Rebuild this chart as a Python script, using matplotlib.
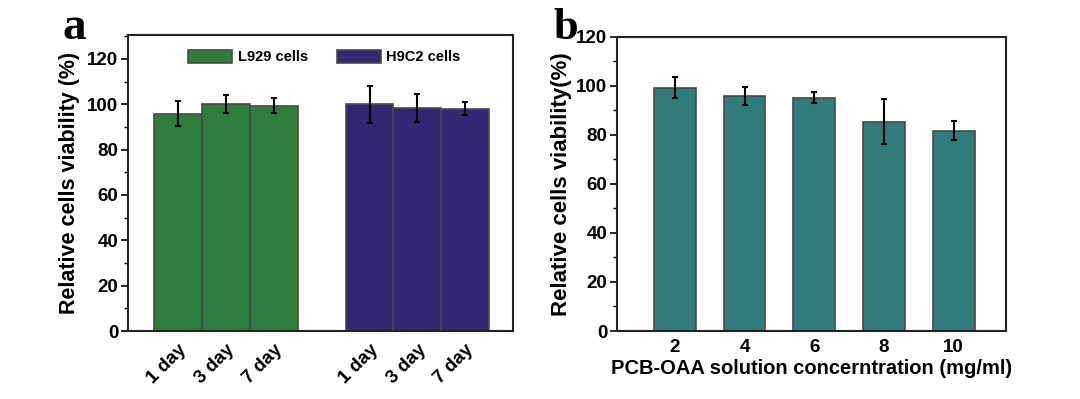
import matplotlib
matplotlib.use("Agg")
import matplotlib.pyplot as plt
from matplotlib.ticker import MultipleLocator
import numpy as np

plt.rcParams['font.family'] = ['Liberation Sans', 'DejaVu Sans']
plt.rcParams['font.weight'] = 'bold'

# ---- data ----
day_labels = ["1 day", "3 day", "7 day"]
l929_vals = [95.8, 100.3, 99.4]
l929_err = [5.5, 4.0, 3.3]
h9c2_vals = [99.9, 98.4, 98.1]
h9c2_err = [8.3, 6.0, 3.0]

conc = [2, 4, 6, 8, 10]
conc_vals = [99.2, 95.8, 95.1, 85.3, 81.6]
conc_err = [4.2, 3.7, 2.2, 9.2, 3.9]

green = "#2e7d3d"
navy = "#342874"
teal = "#2f7c79"
edge = "#4a4a4a"

fig = plt.figure(figsize=(10.8, 3.99), dpi=100)
axa = fig.add_axes([0.1185, 0.1704, 0.3565, 0.7416])
axb = fig.add_axes([0.5713, 0.1704, 0.3602, 0.7376])

def style(ax):
    for s in ax.spines.values():
        s.set_linewidth(1.5)
        s.set_color("#222222")
    ax.yaxis.set_major_locator(MultipleLocator(20))
    ax.yaxis.set_minor_locator(MultipleLocator(10))
    ax.tick_params(axis='y', which='major', direction='out', length=5, width=1.2,
                   labelsize=13.5, pad=2)
    ax.tick_params(axis='y', which='minor', direction='out', length=3, width=1.0)
    ax.tick_params(axis='x', which='both', length=0, labelsize=13.5)
    for lab in ax.get_yticklabels():
        lab.set_fontweight('bold')

# ---- panel a ----
xl = np.array([1, 2, 3])
xh = np.array([5, 6, 7])
ebk = dict(ecolor='black', elinewidth=1.5, capsize=2.5, capthick=1.5)
axa.bar(xl, l929_vals, width=1.0, color=green, edgecolor=edge, linewidth=1.2,
        yerr=l929_err, error_kw=ebk, label="L929 cells")
axa.bar(xh, h9c2_vals, width=1.0, color=navy, edgecolor=edge, linewidth=1.2,
        yerr=h9c2_err, error_kw=ebk, label="H9C2 cells")
axa.set_xlim(-0.05, 8.0)
axa.set_ylim(0, 130.5)
axa.set_xticks(list(xl) + list(xh))
axa.set_xticklabels(day_labels + day_labels, rotation=45, ha='right',
                    rotation_mode='anchor', fontweight='bold')
axa.set_ylabel("Relative cells viability (%)", fontsize=15.5, fontweight='bold', labelpad=5)
style(axa)
axa.tick_params(axis='x', pad=7)
leg = axa.legend(loc='upper center', ncol=2, frameon=False, fontsize=10.5,
                 bbox_to_anchor=(0.51, 0.995), handlelength=3.0, handleheight=1.0,
                 columnspacing=2.0, handletextpad=0.4)
for t in leg.get_texts():
    t.set_fontweight('bold')
fig.text(0.069, 0.93, "a", fontsize=34, fontweight='bold',
         family=['Liberation Serif', 'DejaVu Serif'], ha='center', va='center')

# ---- panel b ----
axb.bar(conc, conc_vals, width=1.2, color=teal, edgecolor=edge, linewidth=1.2,
        yerr=conc_err, error_kw=ebk)
axb.set_xlim(0.34, 11.5)
axb.set_ylim(0, 120)
axb.set_xticks(conc)
axb.set_xticklabels([str(c) for c in conc], fontweight='bold')
axb.set_xlabel("PCB-OAA solution concerntration (mg/ml)", fontsize=14.5,
               fontweight='bold', labelpad=2)
axb.set_ylabel("Relative cells viability(%)", fontsize=16, fontweight='bold', labelpad=3)
style(axb)
axb.tick_params(axis='x', pad=6)
fig.text(0.524, 0.93, "b", fontsize=32, fontweight='bold',
         family=['Liberation Serif', 'DejaVu Serif'], ha='center', va='center')

fig.savefig("out.png", dpi=100, facecolor='white')
